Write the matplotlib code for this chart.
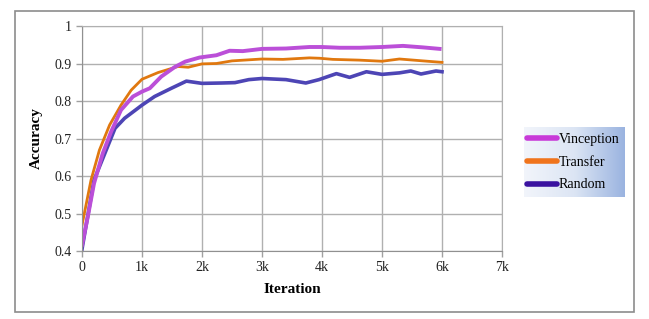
import numpy as np
import matplotlib
matplotlib.use("Agg")
import matplotlib.pyplot as plt
from matplotlib.lines import Line2D
from matplotlib.patches import Rectangle

plt.rcParams['font.family'] = ['Liberation Serif', 'DejaVu Serif']

# data
vinc_x = [0, 95, 200, 345, 485, 650, 850, 1000, 1130, 1320, 1550, 1720, 1960, 2240,
          2460, 2680, 3000, 3400, 3790, 4000, 4290, 4630, 5000, 5350, 5680, 5960]
vinc_y = [0.416, 0.49, 0.58, 0.66, 0.718, 0.776, 0.812, 0.825, 0.834, 0.865, 0.891, 0.905,
          0.916, 0.922, 0.934, 0.933, 0.939, 0.94, 0.944, 0.944, 0.942, 0.942, 0.944, 0.947,
          0.943, 0.939]

trans_x = [0, 150, 290, 460, 650, 820, 1000, 1270, 1600, 1770, 2000, 2240, 2500, 3000,
           3350, 3790, 3960, 4180, 4620, 5000, 5290, 5680, 6000]
trans_y = [0.469, 0.589, 0.669, 0.736, 0.789, 0.829, 0.858, 0.876, 0.892, 0.89, 0.899, 0.9,
           0.907, 0.912, 0.911, 0.915, 0.914, 0.911, 0.909, 0.906, 0.912, 0.907, 0.903]

rand_x = [0, 200, 550, 710, 1000, 1210, 1490, 1740, 2000, 2330, 2550, 2780, 3000, 3400,
          3730, 3950, 4240, 4460, 4740, 5000, 5290, 5480, 5650, 5900, 6000]
rand_y = [0.405, 0.589, 0.727, 0.754, 0.789, 0.812, 0.834, 0.853, 0.847, 0.848, 0.849, 0.857,
          0.86, 0.857, 0.848, 0.857, 0.873, 0.863, 0.878, 0.871, 0.875, 0.88, 0.872, 0.88, 0.878]

x_ticks = [0, 1000, 2000, 3000, 4000, 5000, 6000, 7000]
x_labels = ['0', '1k', '2k', '3k', '4k', '5k', '6k', '7k']
y_ticks = [0.4, 0.5, 0.6, 0.7, 0.8, 0.9, 1.0]
y_labels = ['0.4', '0.5', '0.6', '0.7', '0.8', '0.9', '1']

fig = plt.figure(figsize=(6.49, 3.19), dpi=100)

# outer chart border
fig.patches.append(Rectangle((15 / 649, 1 - 312 / 319), 619 / 649, 301 / 319,
                             transform=fig.transFigure, fill=False,
                             edgecolor='#8c8c8c', linewidth=1.2))

ax = fig.add_axes([82 / 649, 1 - 251 / 319, 420 / 649, 225 / 319])
ax.plot(rand_x, rand_y, color='#4d45b5', linewidth=2.6)
ax.plot(trans_x, trans_y, color='#e0780f', linewidth=2.0)
ax.plot(vinc_x, vinc_y, color='#bb4fd8', linewidth=2.8)

ax.set_xlim(0, 7000)
ax.set_ylim(0.4, 1.0)
ax.set_xticks(x_ticks)
ax.set_xticklabels(x_labels)
ax.set_yticks(y_ticks)
ax.set_yticklabels(y_labels)
ax.tick_params(labelsize=10, colors='#222222', length=4, color='#a0a0a0', width=1)
ax.grid(True, color='#b0b0b0', linewidth=1)
ax.set_axisbelow(True)
for s in ax.spines.values():
    s.set_color('#b0b0b0')
ax.spines['left'].set_color('#909090')
ax.spines['bottom'].set_color('#909090')
ax.set_xlabel('Iteration', fontsize=11, fontweight='bold', labelpad=6)
ax.set_ylabel('Accuracy', fontsize=11, fontweight='bold', labelpad=8)

# legend box with gradient
lax = fig.add_axes([524 / 649, 1 - 197 / 319, 101 / 649, 70 / 319])
grad = np.linspace(0, 1, 256).reshape(1, -1)
cmap = matplotlib.colors.LinearSegmentedColormap.from_list('g', ['#f2f5fb', '#dce5f4', '#9ab3e0'])
lax.imshow(grad, aspect='auto', cmap=cmap, extent=[0, 1, 0, 1])
lax.set_axis_off()

handles = [Line2D([], [], color='#c83ad8', linewidth=4, solid_capstyle='round'),
           Line2D([], [], color='#f0741c', linewidth=4, solid_capstyle='round'),
           Line2D([], [], color='#3a12a0', linewidth=4, solid_capstyle='round')]
fig.legend(handles, ['Vinception', 'Transfer', 'Random'], loc='center left',
           bbox_to_anchor=(526 / 649, 1 - 162 / 319), frameon=False, fontsize=10,
           handlelength=2.1, handletextpad=0.15, labelspacing=0.72, borderaxespad=0,
           borderpad=0.1)

fig.savefig('out.png', dpi=100)
